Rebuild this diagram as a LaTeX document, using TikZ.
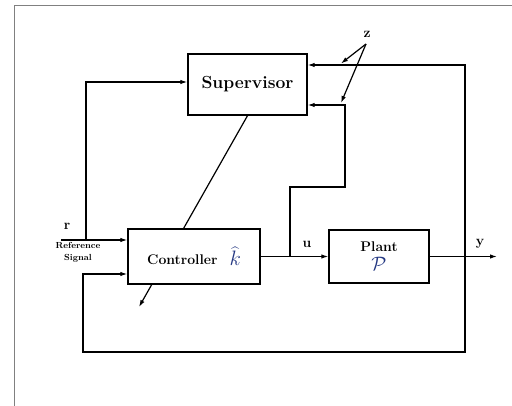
\documentclass[tikz,border=0pt]{standalone}
\usetikzlibrary{calc,arrows.meta}

\definecolor{mathblue}{RGB}{35,55,130}

\begin{document}
\begin{tikzpicture}[>={Latex[length=7pt,width=4.5pt]},x=1pt,y=-1pt,line width=1.2pt,
  every node/.style={font=\bfseries\fontsize{14}{16}\selectfont},
  block/.style={draw,rectangle,fill=white,line width=1.4pt}]
  \useasboundingbox (0,0) rectangle (512,406);
  % frame
  \draw[gray,line width=1pt] (14,406) -- (14,5.5) -- (512,5.5);
  % blocks
  \node[block,minimum width=119pt,minimum height=61pt,font=\bfseries\fontsize{17.5}{20}\selectfont] (sup) at (247.5,84.5) {Supervisor};
  \coordinate (adapt) at (139,307);
  \draw[->] (sup.south) -- (adapt);
  \node[block,minimum width=132pt,minimum height=55pt] (ctrl) at (194,256.5) {Controller\hspace{12pt}\raisebox{-1pt}{\textcolor{mathblue}{\scalebox{1.45}{$\widehat{k}$}}}};
  \node[block,minimum width=100pt,minimum height=53pt,align=center] (plant) at (379,256.5) {Plant\\[3pt]\textcolor{mathblue}{\scalebox{1.35}{$\mathcal{P}$}}};
  % reference input
  \coordinate (rin) at (61,240);
  \coordinate (rbr) at (86,240);
  \draw[->] (rin) -- (rin -| ctrl.west);
  \draw[->] (rbr) |- ([yshift=2.5pt]sup.west);
  \node (r) at (67,226) {r};
  \node[font=\bfseries\fontsize{8.8}{11.5}\selectfont,align=center] (refsig) at (78,252.5) {Reference\\Signal};
  % control signal
  \coordinate (ubr) at (290,256.5);
  \coordinate (ujog) at (345,187);
  \coordinate (s2) at ([yshift=-20.5pt]sup.east);
  \draw[->] (ctrl.east) -- (plant.west);
  \draw[->] (ubr) |- (ujog) |- (s2);
  \node (u) at (307,244) {u};
  % output and feedback
  \coordinate (yout) at (497,256.5);
  \coordinate (fb) at (465,256.5);
  \coordinate (s1) at ([yshift=19.5pt]sup.east);
  \coordinate (fbl) at (83,352);
  \draw[->] (plant.east) -- (yout);
  \node (y) at (480,244) {y};
  \draw[->] (fb) |- (s1);
  \draw[->] (fb) |- (fbl) |- ([yshift=-17.5pt]ctrl.west);
  % z
  \node (z) at (367,34) {z};
  \coordinate (zs) at (366,44);
  \coordinate (za) at (341,63.5);
  \coordinate (zb) at (341,103);
  \draw[->] (zs) -- (za);
  \draw[->] (zs) -- (zb);
\end{tikzpicture}
\end{document}
